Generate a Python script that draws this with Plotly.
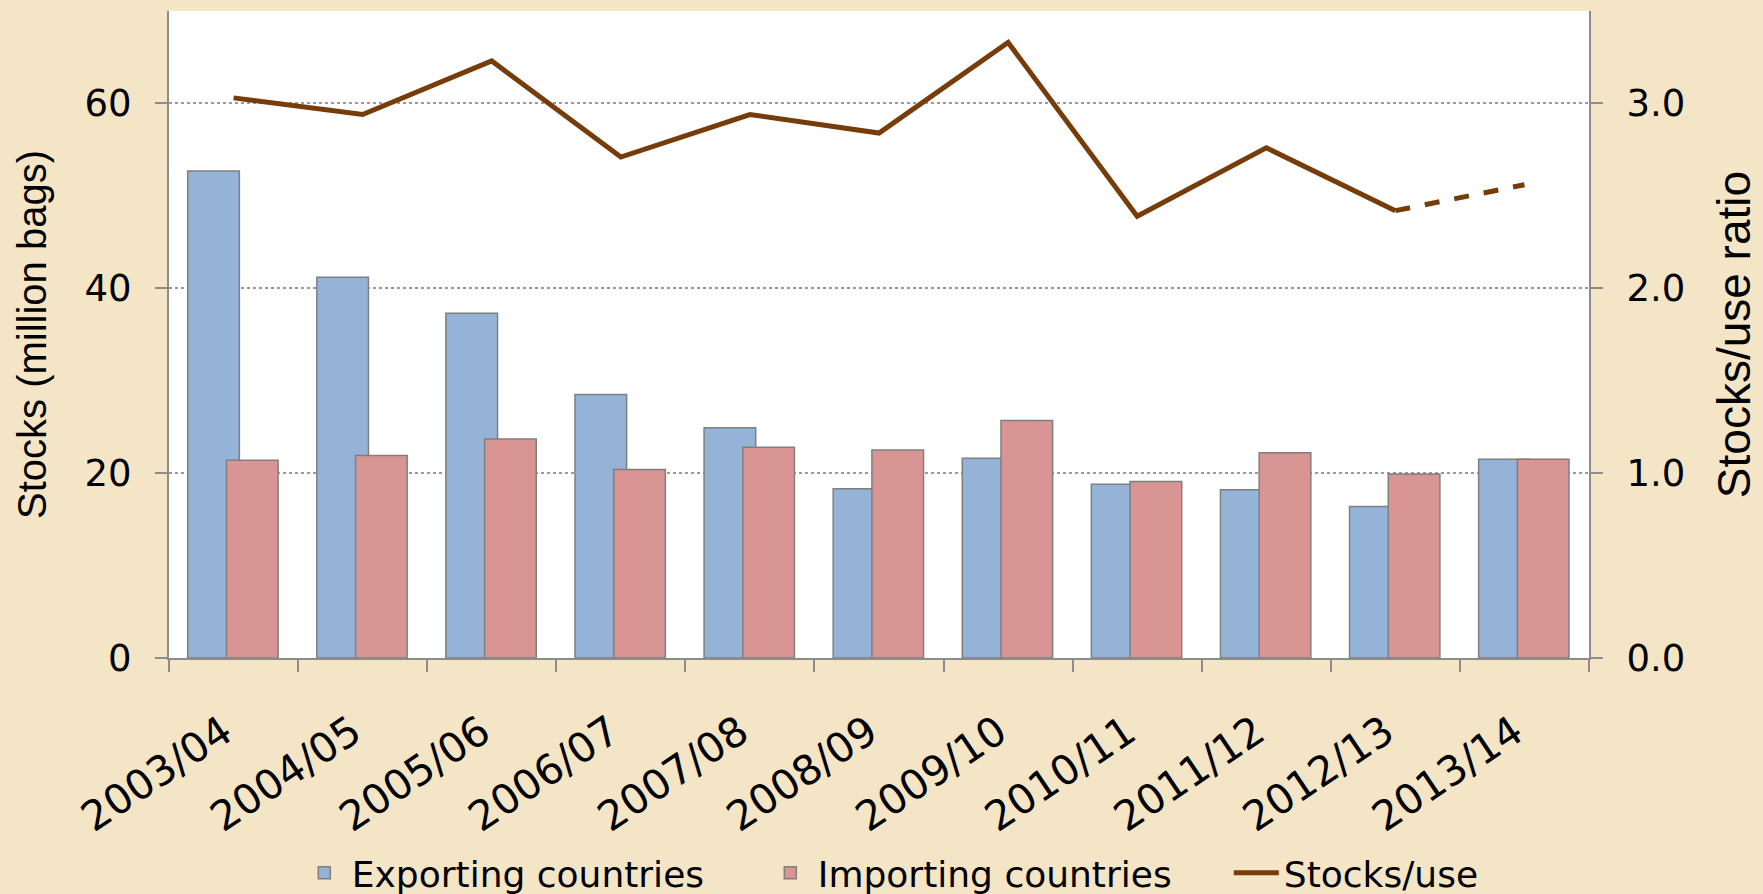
import plotly.graph_objects as go

seasons = ["2003/04", "2004/05", "2005/06", "2006/07", "2007/08", "2008/09",
           "2009/10", "2010/11", "2011/12", "2012/13", "2013/14"]
exporting = [52.7, 41.2, 37.3, 28.5, 24.9, 18.3, 21.6, 18.8, 18.2, 16.4, 21.5]
importing = [21.4, 21.9, 23.7, 20.4, 22.8, 22.5, 25.7, 19.1, 22.2, 19.9, 21.5]
stocks_use = [3.03, 2.94, 3.23, 2.71, 2.94, 2.84, 3.33, 2.39, 2.76, 2.42, 2.56]

BG = "#F4E5C6"
AXIS = "#8C8C8C"
BROWN = "#763C0A"
TICKFONT = dict(family="DejaVu Sans", size=37, color="black")

fig = go.Figure()
fig.add_trace(go.Bar(x=seasons, y=exporting, name="Exporting countries",
                     marker=dict(color="#95B3D7", line=dict(color="#7F7F7F", width=1.5)),
                     width=0.4, offset=-0.355))
fig.add_trace(go.Bar(x=seasons, y=importing, name="Importing countries",
                     marker=dict(color="#D99594", line=dict(color="#7F7F7F", width=1.5)),
                     width=0.4, offset=-0.055))
# solid line up to 2012/13, dashed forecast to 2013/14
fig.add_trace(go.Scatter(x=seasons[:-1], y=stocks_use[:-1], name="Stocks/use",
                         mode="lines", line=dict(color=BROWN, width=5), yaxis="y2"))
fig.add_trace(go.Scatter(x=seasons[-2:], y=stocks_use[-2:], showlegend=False,
                         mode="lines", line=dict(color=BROWN, width=5, dash="dash"),
                         yaxis="y2"))

fig.update_layout(
    width=1763, height=894,
    margin=dict(l=169, r=174, t=11, b=236, autoexpand=False),
    paper_bgcolor=BG, plot_bgcolor="white",
    barmode="overlay",
    showlegend=True,
    legend=dict(orientation="h", x=0.09, xanchor="left", y=-0.332, yanchor="middle",
                font=dict(family="DejaVu Sans", size=36, color="black"),
                bgcolor="rgba(0,0,0,0)", itemwidth=45,
                entrywidth=406, traceorder="normal"),
    xaxis=dict(tickangle=-34, tickfont=dict(family="DejaVu Sans", size=41, color="black"),
               tickson="boundaries", ticks="outside", ticklen=12, tickcolor=AXIS,
               tickwidth=2, showline=True, linecolor=AXIS, linewidth=2,
               showgrid=False, automargin=False, ticklabelstandoff=32,
               ticklabelshift=-10),
    yaxis=dict(range=[0, 70], dtick=20, tickfont=TICKFONT, automargin=False,
               ticklabelstandoff=16,
               title=dict(text="Stocks (million bags)", standoff=26,
                          font=dict(family="Liberation Sans, Arial", size=40, color="black")),
               ticks="outside", ticklen=12, tickcolor=AXIS, tickwidth=2,
               showline=True, linecolor=AXIS, linewidth=2, zeroline=False,
               showgrid=True, gridcolor="#999999", gridwidth=1.5, griddash="dot"),
    yaxis2=dict(range=[0, 3.5], dtick=1, tickformat=".1f", overlaying="y", side="right",
                tickfont=TICKFONT, automargin=False, ticklabelstandoff=16,
                title=dict(text="Stocks/use ratio", standoff=34,
                           font=dict(family="Liberation Sans, Arial", size=46, color="black")),
                ticks="outside", ticklen=12, tickcolor=AXIS, tickwidth=2,
                showline=True, linecolor=AXIS, linewidth=2, zeroline=False,
                showgrid=False),
)

# drop the default page margin so the figure sits at the window's corner
fig.write_html("out.html", config={"displayModeBar": False},
               post_script="document.body.style.margin='0';"
                           "document.body.style.background='" + BG + "';")
